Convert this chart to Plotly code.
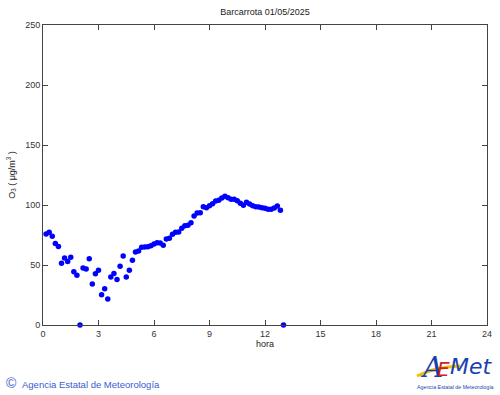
import plotly.graph_objects as go

hours = [i / 6 for i in range(1, 79)]
o3 = [75.8, 77.2, 74, 68, 65.5, 51.4, 55.8, 53, 56.4, 44.4,
      41.4, 0, 47.5, 46.7, 55.3, 34.2, 42.8, 45.6, 25.3, 30.3,
      21.7, 40, 43, 38, 49, 57.5, 40, 45.6, 54, 60.8,
      61.7, 64.7, 65, 65.3, 66.1, 67.5, 68.6, 68.3, 66.4, 71.7,
      72.2, 75.6, 77.2, 77.5, 80.6, 82.7, 83.2, 85.3, 90.8, 93.3,
      93.5, 98.6, 97.8, 99.4, 101, 103.3, 104, 105.8, 107.2, 106,
      104.7, 104.7, 103.6, 101.4, 99.7, 102.2, 100.8, 99.4, 98.6, 98.3,
      97.8, 97.2, 96.4, 96.4, 97.5, 99.2, 95.6, 0]
x_ticks = [0, 3, 6, 9, 12, 15, 18, 21, 24]
y_ticks = [0, 50, 100, 150, 200, 250]

FONT = "Liberation Sans, Arial, sans-serif"
W, H = 500, 395
L, R, T, B = 43, 13, 25, 70
pw, ph = W - L - R, H - T - B


def px(xp):
    return (xp - L) / pw


def py(yp):
    return (H - B - yp) / ph


fig = go.Figure()
fig.add_trace(go.Scatter(
    x=hours, y=o3, mode="markers",
    marker=dict(color="#0000ff", size=5.5, line=dict(width=0)),
    cliponaxis=False, showlegend=False, hoverinfo="skip",
))

axis_common = dict(
    showline=True, linecolor="#444", linewidth=1, mirror="ticks",
    ticks="inside", ticklen=5, tickcolor="#444", tickwidth=1,
    showgrid=False, zeroline=False, automargin=False,
    tickfont=dict(family=FONT, size=9, color="#333"),
)

fig.update_layout(
    width=W, height=H,
    margin=dict(l=L, r=R, t=T, b=B, autoexpand=False),
    paper_bgcolor="white", plot_bgcolor="white",
    title=dict(text="Barcarrota 01/05/2025", x=0.5, xref="paper", xanchor="center",
               y=1 - 12 / H, yref="container", yanchor="middle",
               font=dict(family=FONT, size=9, color="#222")),
    xaxis=dict(range=[0, 24], tickvals=x_ticks,
               title=dict(text="hora", font=dict(family=FONT, size=9, color="#222"), standoff=2),
               **axis_common),
    yaxis=dict(range=[0, 250], tickvals=y_ticks,
               title=dict(text="O<sub>3</sub> ( μg/m<sup>3</sup> )",
                          font=dict(family=FONT, size=9, color="#222"), standoff=8),
               **axis_common),
    font=dict(family=FONT),
)


def note(text, x, y, size, color, family=FONT, xanchor="center"):
    fig.add_annotation(text=text, x=px(x), y=py(y), xref="paper", yref="paper",
                       xanchor=xanchor, yanchor="middle", showarrow=False,
                       font=dict(family=family, size=size, color=color))


# footer
note("©", 4, 383, 14, "#3a5bd0", xanchor="left")
note("Agencia Estatal de Meteorología", 20, 384, 9.5, "#3a5bd0", xanchor="left")

# logo
fig.add_shape(type="path", xref="paper", yref="paper",
              path=f"M {px(417)} {py(376)} Q {px(435)} {py(367)} {px(460)} {py(366)}",
              line=dict(color="#f2c200", width=3))
note("<i>A</i>", 431, 367, 28, "#1a3fb0", family="DejaVu Serif")
note("<i>E</i>", 443, 369, 20, "#d0202a", family="DejaVu Sans")
note("<i>Met</i>", 471, 366, 22, "#1a3fb0", family="DejaVu Sans")
note("Agencia Estatal de Meteorología", 455, 387, 5.3, "#1a3fb0")

fig.write_html("out.html", config={"displayModeBar": False},
               post_script="document.body.style.margin='0';")
